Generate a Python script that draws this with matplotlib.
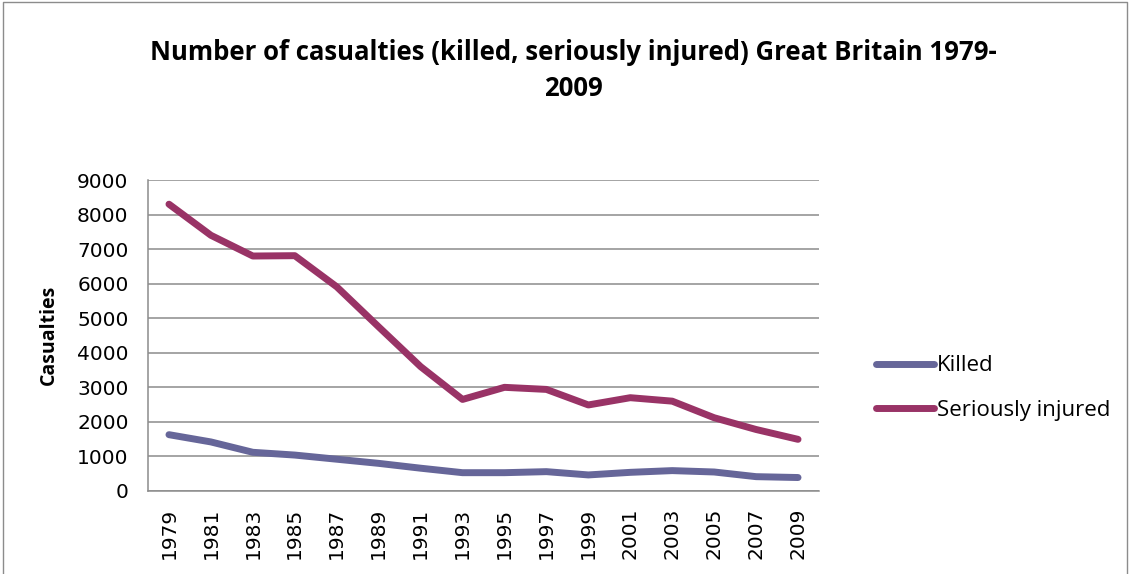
import matplotlib
matplotlib.use("Agg")
import matplotlib.pyplot as plt
from matplotlib.lines import Line2D

years = [str(y) for y in range(1979, 2010, 2)]
killed = [1630, 1420, 1120, 1040, 920, 800, 660, 530, 530, 560, 465, 540, 590, 550, 415, 390]
injured = [8300, 7400, 6800, 6810, 5910, 4750, 3600, 2650, 3000, 2940, 2490, 2700, 2600, 2120, 1780, 1495]
yticks = list(range(0, 9001, 1000))

BLUE = "#666699"
RED = "#993366"
GRID = "#8c8c8c"

W, H = 1130, 574
fig = plt.figure(figsize=(W / 100, H / 100), dpi=100)

# chart-area frame (bottom edge runs off the picture)
fig.add_artist(Line2D([3 / W, 3 / W, 1127 / W, 1127 / W],
                      [-0.01, 1 - 2 / H, 1 - 2 / H, -0.01],
                      transform=fig.transFigure, color="#8c8c8c", lw=1))

ax = fig.add_axes([148 / W, 1 - 491 / H, (819 - 148) / W, (491 - 180) / H])
x = list(range(len(years)))
ax.plot(x, killed, color=BLUE, lw=5, solid_capstyle="round", solid_joinstyle="round", label="Killed")
ax.plot(x, injured, color=RED, lw=5, solid_capstyle="round", solid_joinstyle="round",
        label="Seriously injured")

ax.set_xlim(-0.5, len(years) - 0.5)
ax.set_ylim(0, 9000)
ax.set_yticks(yticks)
ax.set_yticklabels([str(v) for v in yticks], fontsize=14.5, family="DejaVu Sans")
ax.set_xticks(x)
ax.set_xticklabels(years, rotation=90, fontsize=14.5, family="DejaVu Sans")
ax.tick_params(axis="y", length=0, pad=14)
ax.tick_params(axis="x", length=0, pad=12)
ax.grid(axis="y", color=GRID, lw=1.1)
ax.set_axisbelow(True)
for s in ("top", "right"):
    ax.spines[s].set_visible(False)
for s in ("left", "bottom"):
    ax.spines[s].set_color(GRID)
    ax.spines[s].set_linewidth(1.1)

fig.text(49 / W, 1 - 335 / H, "Casualties", rotation=90, ha="center", va="center",
         fontsize=14, fontweight="bold", family="Open Sans")

fig.text(573 / W, 1 - 53 / H, "Number of casualties (killed, seriously injured) Great Britain 1979-",
         ha="center", va="center", fontsize=18.5, fontweight="bold", family="Open Sans")
fig.text(573 / W, 1 - 88 / H, "2009", ha="center", va="center", fontsize=18.5,
         fontweight="bold", family="Open Sans")

leg = ax.legend(loc="center left", bbox_to_anchor=(876 / W, 1 - 388 / H),
                bbox_transform=fig.transFigure, frameon=False, handlelength=2.6,
                handletextpad=0.15, labelspacing=1.05, borderaxespad=0, borderpad=0,
                prop={"family": "Open Sans", "size": 16})

fig.savefig("out.png", dpi=100, facecolor="white")
